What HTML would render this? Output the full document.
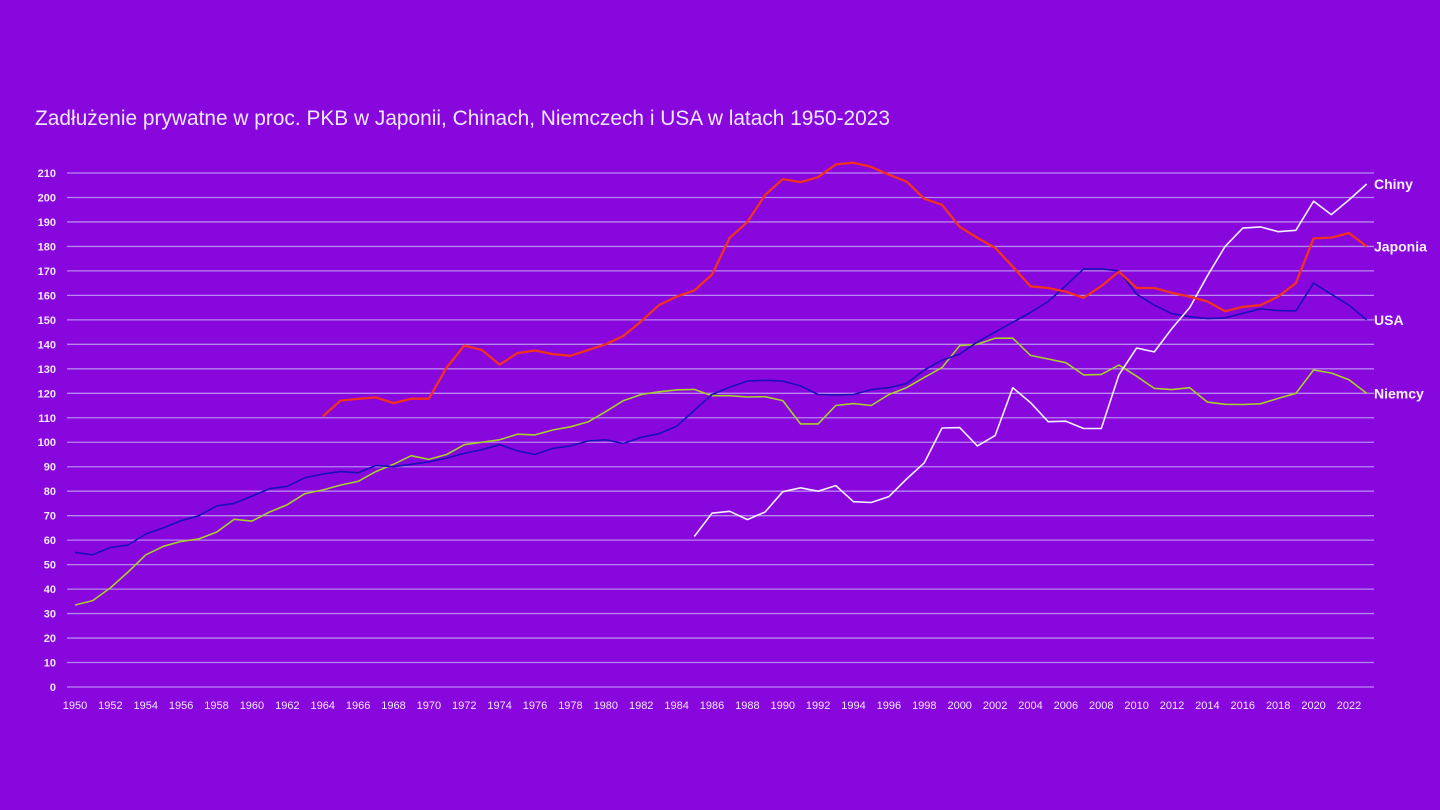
<!DOCTYPE html>
<html><head><meta charset="utf-8"><style>
html,body{margin:0;padding:0;background:#8807dd;}
svg{display:block;font-family:"Liberation Sans",sans-serif;}
</style></head><body>
<svg id="chart" width="1440" height="810" viewBox="0 0 1440 810">
<rect width="1440" height="810" fill="#8807dd"/>
<text x="35" y="125" font-size="21" fill="#f2e8ff" textLength="855" lengthAdjust="spacingAndGlyphs">Zadłużenie prywatne w proc. PKB w Japonii, Chinach, Niemczech i USA w latach 1950-2023</text>
<g id="grid"></g><g id="yticks"></g><g id="xticks"></g><g id="series"></g><g id="labels"></g>
</svg>
<script>
const years=[];for(let y=1950;y<=2023;y++)years.push(y);
const yTicks=[0,10,20,30,40,50,60,70,80,90,100,110,120,130,140,150,160,170,180,190,200,210];
const xTickLabels=[];for(let y=1950;y<=2022;y+=2)xTickLabels.push(y);
const usa=[55,54,57,58,62.5,65,68,70,74,75,78,81,82,85.5,87,88,87.5,90.5,90,91,92,93.5,95.5,97,99,96.5,95,97.5,98.5,100.5,101,99.5,102,103.5,106.5,113,119.5,122.5,125,125.3,125,123,119.5,119.3,119.5,121.5,122.3,124,129.5,133.5,136,141,145,149,153,157.5,164,170.8,170.8,170,160.5,156,152.5,151.3,150.5,150.8,152.7,154.5,153.8,153.6,165,160.5,156,150];
const germany=[33.5,35.3,40.5,47,54,57.5,59.5,60.5,63.3,68.5,67.8,71.5,74.5,79,80.5,82.5,84,88,91,94.5,93,95,99,100,101,103.3,103,105,106.3,108.3,112.5,117,119.5,120.6,121.4,121.6,119,119,118.5,118.6,117,107.5,107.5,115,115.8,115,119.5,122.3,126.5,130.5,139.5,140,142.5,142.5,135.5,134,132.5,127.5,127.7,131.5,127,122,121.5,122.3,116.4,115.5,115.4,115.7,117.9,120,129.5,128.3,125.5,120];
const japanStart=1964;
const japan=[110.5,117,117.7,118.3,116,117.8,117.8,130.5,139.5,137.7,131.7,136.4,137.5,136,135.3,137.7,140,143.5,149.4,156,159.5,162,168.5,183.5,190,201,207.5,206.3,208.3,213.5,214.2,212.5,209.3,206.5,199.5,197,188,183.5,179.5,171.7,163.7,163,161.5,159,163.8,169.7,163,163,161,159.5,157.5,153.5,155.3,156,159.5,165,183.3,183.6,185.5,180];
const chinaStart=1985;
const china=[61.5,71,71.8,68.4,71.5,79.8,81.4,80,82.3,75.7,75.4,77.8,85,91.6,105.8,106,98.5,102.7,122.3,116.2,108.4,108.6,105.6,105.6,127.5,138.5,136.9,146.5,155,168,180,187.5,188,186,186.6,198.5,193,199,205.5];

const NS='http://www.w3.org/2000/svg';
const X=yr=>75+(yr-1950)*17.694;
const Y=v=>687-v*2.4476;
function mk(tag,attrs,parent){const e=document.createElementNS(NS,tag);for(const k in attrs)e.setAttribute(k,attrs[k]);document.getElementById(parent).appendChild(e);return e;}
yTicks.forEach(v=>{
  const l=mk('line',{x1:67,x2:1374,y1:Y(v),y2:Y(v),stroke:'#b985f0','stroke-width':1.3},'grid');
  
  
  const t=mk('text',{x:56,y:Y(v)+4,'font-size':11,'font-weight':'bold',fill:'#f2e8ff','text-anchor':'end'},'yticks');
  t.textContent=v;
  
  
});
xTickLabels.forEach(yr=>{
  const t=mk('text',{x:X(yr),y:709,'font-size':11,fill:'#f2e8ff','text-anchor':'middle'},'xticks');
  t.textContent=yr;
  
  
});
function line(vals,start,color,w,name,label){
  const pts=vals.map((v,i)=>X(start+i).toFixed(1)+','+Y(v).toFixed(1)).join(' ');
  const p=mk('polyline',{points:pts,fill:'none',stroke:color,'stroke-width':w,'stroke-linejoin':'round'},'series');
  
  
  const last=vals[vals.length-1];
  const t=mk('text',{x:1374,y:Y(last)+5,'font-size':14,'font-weight':'bold',fill:'#f7f0ff'},'labels');
  t.textContent=label;
  
  
}
line(germany,1950,'#a8d02a',1.6,'series-germany','Niemcy');
line(usa,1950,'#1a0fb8',1.6,'series-usa','USA');
line(china,chinaStart,'#f5eeff',1.6,'series-china','Chiny');
line(japan,japanStart,'#f0321e',2.3,'series-japan','Japonia');
</script>
</body></html>
